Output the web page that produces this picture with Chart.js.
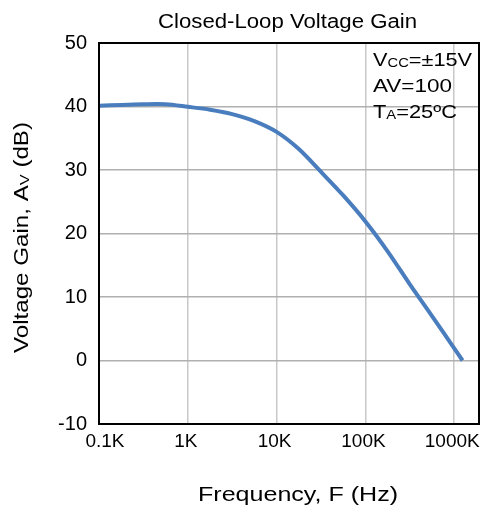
<!DOCTYPE html>
<html>
<head>
<meta charset="utf-8">
<script src="https://cdn.jsdelivr.net/npm/chart.js@4/dist/chart.umd.min.js"></script>
<style>
  html, body { margin: 0; padding: 0; background: #fff; }
  #wrap { width: 487px; height: 507px; }
</style>
</head>
<body>
<div id="wrap"><canvas id="myChart" width="487" height="507"></canvas></div>
<script>
// data (points a quarter decade apart)
const freqHz = [100, 178, 316, 562, 1000, 1778, 3162, 5623, 10000, 17783, 31623, 56234, 100000, 177828, 316228, 562341, 1000000, 1240000]
const gainDb = [40.1, 40.25, 40.35, 40.35, 39.95, 39.5, 38.8, 37.7, 36.0, 33.3, 29.7, 26.0, 21.9, 17.2, 12.0, 7.0, 1.9, 0.0]
const xTickValues = [100, 1000, 10000, 100000, 1000000]
const xTickLabels = ['0.1K', '1K', '10K', '100K', '1000K']
const yTickValues = [-10, 0, 10, 20, 30, 40, 50]

const FONT = '"Liberation Sans", Arial, sans-serif'

// text with optional small (subscript) parts, stretched to a given width
// pieces = [[text, isSub], ...]
function pieceWidth(c, pieces, size) {
  let w = 0
  pieces.forEach(p => {
    c.font = (p[1] ? size * 0.68 : size) + 'px ' + FONT
    w += c.measureText(p[0]).width
  })
  return w
}
function drawFit(c, pieces, x, y, size, targetW, align) {
  const w = pieceWidth(c, pieces, size)
  const sx = targetW ? targetW / w : 1
  c.save()
  c.translate(x, y)
  c.scale(sx, 1)
  let cx = 0
  if (align === 'center') cx = -w / 2
  c.textAlign = 'left'
  pieces.forEach(p => {
    c.font = (p[1] ? size * 0.68 : size) + 'px ' + FONT
    c.fillText(p[0], cx, p[1] ? size * 0.04 : 0)
    cx += c.measureText(p[0]).width
  })
  c.restore()
}

const extras = {
  id: 'extras',
  afterDraw(chart) {
    const c = chart.ctx
    const a = chart.chartArea
    c.save()
    // frame
    c.strokeStyle = '#000'
    c.lineWidth = 2
    c.strokeRect(a.left, a.top, a.right - a.left, a.bottom - a.top)

    c.fillStyle = '#000'
    c.textBaseline = 'alphabetic'

    // x tick labels from the x scale
    const xs = chart.scales.x
    xTickValues.forEach((v, i) => {
      const px = xs.getPixelForValue(v) + (i === 0 ? 6 : -2)
      drawFit(c, [[xTickLabels[i], false]], px, 447, 19, 0, 'center')
    })

    // title
    drawFit(c, [['Closed-Loop Voltage Gain', false]], 287.5, 28, 20, 259, 'center')
    // x title
    drawFit(c, [['Frequency, F (Hz)', false]], 298, 501, 19.5, 200, 'center')

    // conditions text
    drawFit(c, [['V', false], ['CC', true], ['=±15V', false]], 373, 66, 18.7, 99, 'left')
    drawFit(c, [['AV=100', false]], 373, 92, 18.7, 79, 'left')
    drawFit(c, [['T', false], ['A', true], ['=25ºC', false]], 373, 118, 18.7, 84, 'left')

    // y title rotated
    c.translate(28, 237.5)
    c.rotate(-Math.PI / 2)
    drawFit(c, [['Voltage Gain, A', false], ['V', true], [' (dB)', false]], 0, 0, 19.5, 231, 'center')
    c.restore()
  }
}

const ctx = document.getElementById('myChart').getContext('2d')
const mychart = new Chart(ctx, {
  type: 'line',
  data: {
    datasets: [{
      label: 'Gain',
      data: freqHz.map((f, i) => ({ x: f, y: gainDb[i] })),
      borderColor: '#4a7dbd',
      borderWidth: 4,
      pointRadius: 0,
      tension: 0.3,
      fill: false
    }]
  },
  options: {
    responsive: false,
    animation: false,
    layout: { padding: { left: 0, right: 8, top: 43, bottom: 0 } },
    plugins: {
      legend: { display: false },
      tooltip: { enabled: false }
    },
    scales: {
      x: {
        type: 'logarithmic',
        min: 100,
        max: 1900000,
        afterBuildTicks: scale => { scale.ticks = xTickValues.map(v => ({ value: v })) },
        afterFit: scale => { scale.height = 83 },
        ticks: { display: false, autoSkip: false },
        grid: { color: '#c8c8c8', lineWidth: 1.5, drawTicks: false },
        border: { display: false }
      },
      y: {
        min: -10,
        max: 50,
        afterBuildTicks: scale => { scale.ticks = yTickValues.map(v => ({ value: v })) },
        afterFit: scale => { scale.width = 99 },
        ticks: {
          color: '#000',
          font: { family: FONT, size: 20 },
          padding: 12
        },
        grid: { color: '#b0b0b0', lineWidth: 1.5, drawTicks: false },
        border: { display: false }
      }
    }
  },
  plugins: [extras]
})
</script>
</body>
</html>
